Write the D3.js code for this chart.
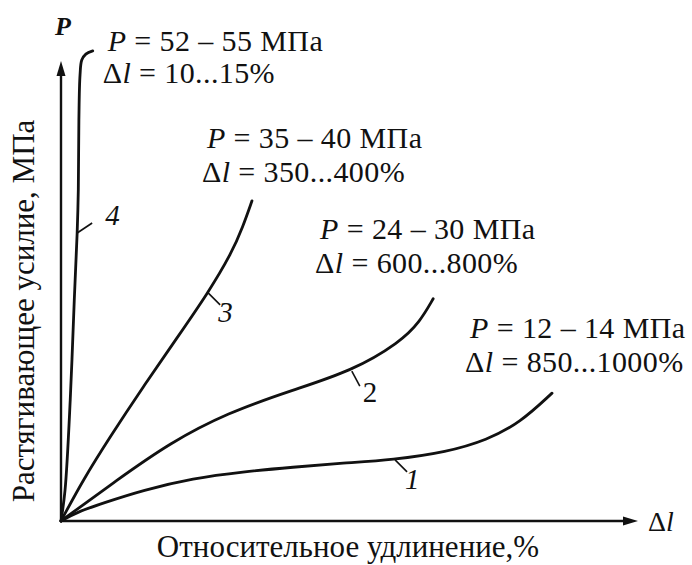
<!DOCTYPE html>
<html>
<head>
<meta charset="utf-8">
<script src="https://cdn.jsdelivr.net/npm/d3@7"></script>
<style>
  body { margin: 0; background: #fff; }
  svg text { font-family: "Liberation Serif", "Times New Roman", serif; fill: #111; }
</style>
</head>
<body>
<script>
// schematic stress-strain curves, values in relative units (0..100 on each axis)
var curveNames = ["1", "2", "3", "4"];

var curve1 = [[0,0],[2.9,2.0],[7.3,3.9],[14.2,6.7],[22.9,9.3],[31.5,10.7],[40.2,11.7],[48.9,12.6],[57.5,13.3],[66.9,15.0],[73.8,17.6],[79.5,21.3],[85.1,27.8]];
var curve2 = [[0,0],[9.7,8.9],[18.9,17.0],[28.8,23.5],[40.2,28.5],[50.4,32.6],[58.8,38.9],[62.2,43.3],[64.5,48.3]];
var curve3 = [[0,0],[3.8,8.9],[8.5,18.3],[14.2,29.1],[20.1,39.8],[25.5,49.6],[29.6,58.3],[31.5,63.9],[33.1,69.6]];
var curve4 = [[0,0],[0.7,6.7],[1.6,26.3],[2.3,48],[2.8,62.6],[3.0,72],[3.1,87.2],[3.3,97],[3.6,100.2],[4.3,101.5],[5.5,102.2]];

// where the number label of each curve is attached (point on curve)
var labelAnchors = [[57.9,13.3],[50.4,32.6],[25.5,49.6],[2.8,62.6]];

// strength / elongation captions, one per curve
var strengthText = ["12 – 14 МПа", "24 – 30 МПа", "35 – 40 МПа", "52 – 55 МПа"];
var elongText    = ["850...1000%", "600...800%", "350...400%", "10...15%"];
// caption positions (relative units)
var captionPos = [[70.9,39.8],[44.9,61.3],[25.3,81.1],[8.1,102.2]];

var W = 692, H = 565;
var svg = d3.select("body").append("svg")
    .attr("width", W)
    .attr("height", H);

// set the ranges
var x = d3.scaleLinear().domain([0, 100]).range([61, 638]);
var y = d3.scaleLinear().domain([0, 100]).range([521, 61]);

// axes (drawn as lines with arrow heads)
svg.append("line")
    .attr("x1", x(0)).attr("y1", y(0))
    .attr("x2", x(100) - 8).attr("y2", y(0))
    .attr("stroke", "#111").attr("stroke-width", 2.4);
svg.append("path")
    .attr("d", "M" + x(100) + "," + y(0) + "L" + (x(100) - 15) + "," + (y(0) - 4.5) + "L" + (x(100) - 15) + "," + (y(0) + 4.5) + "Z")
    .attr("fill", "#111");

svg.append("line")
    .attr("x1", x(0)).attr("y1", y(0))
    .attr("x2", x(0)).attr("y2", y(100) + 8)
    .attr("stroke", "#111").attr("stroke-width", 2.4);
svg.append("path")
    .attr("d", "M" + x(0) + "," + y(100) + "L" + (x(0) - 4.5) + "," + (y(100) + 15) + "L" + (x(0) + 4.5) + "," + (y(100) + 15) + "Z")
    .attr("fill", "#111");

// the curves (smoothed through the read-off points)
var line = d3.line()
    .x(function(d) { return x(d[0]); })
    .y(function(d) { return y(d[1]); })
    .curve(d3.curveBasis);

var hookLine = d3.line()
    .x(function(d) { return x(d[0]); })
    .y(function(d) { return y(d[1]); })
    .curve(d3.curveCatmullRom.alpha(0.5));

svg.selectAll(".curve")
    .data([curve1, curve2, curve3, curve4])
    .enter()
    .append("path")
    .classed("curve", true)
    .attr("d", function(d, i) { return i == 3 ? hookLine(d) : line(d); })
    .attr("fill", "none")
    .attr("stroke", "#111")
    .attr("stroke-width", 2.8)
    .attr("stroke-linecap", "round");

// leader ticks + curve numbers
var ticks = svg.selectAll(".lbl")
    .data(labelAnchors)
    .enter()
    .append("g")
    .classed("lbl", true)
    .attr("transform", function(d) { return "translate(" + x(d[0]) + "," + y(d[1]) + ")"; });

ticks.append("line")
    .attr("x1", 0).attr("y1", 0)
    .attr("x2", function(d, i) { return i == 3 ? 15 : (i == 1 ? 8 : 12); })
    .attr("y2", function(d, i) { return i == 3 ? -10 : (i == 1 ? 15 : 12); })
    .attr("stroke", "#111").attr("stroke-width", 1.6);

ticks.append("text")
    .attr("x", function(d, i) { return i == 3 ? 28 : (i == 1 ? 11 : 10); })
    .attr("y", function(d, i) { return i == 3 ? -8 : (i == 1 ? 31 : 29); })
    .style("font-size", "29px")
    .style("font-style", function(d, i) { return i == 1 ? "normal" : "italic"; })
    .text(function(d, i) { return curveNames[i]; });

// captions
var caps = svg.selectAll(".cap")
    .data(captionPos)
    .enter()
    .append("g")
    .classed("cap", true)
    .attr("transform", function(d) { return "translate(" + x(d[0]) + "," + y(d[1]) + ")"; });

var t1 = caps.append("text")
    .attr("x", 0).attr("y", 0)
    .style("font-size", "30px")
    .style("letter-spacing", "0.4px");
t1.append("tspan").style("font-style", "italic").text("P");
t1.append("tspan").text(function(d, i) { return " = " + strengthText[i]; });

var t2 = caps.append("text")
    .attr("x", -5).attr("y", function(d, i) { return i == 3 ? 32 : 34; })
    .style("font-size", "30px")
    .style("letter-spacing", "0.4px");
t2.append("tspan").text("Δ");
t2.append("tspan").style("font-style", "italic").text("l");
t2.append("tspan").text(function(d, i) { return " = " + elongText[i]; });

// axis names
svg.append("text")
    .attr("x", x(0) - 6)
    .attr("y", 35)
    .style("font-size", "26px")
    .style("font-style", "italic")
    .style("font-weight", "bold")
    .text("P");

var dl = svg.append("text")
    .attr("x", x(100) + 10)
    .attr("y", y(0) + 10)
    .style("font-size", "28px");
dl.append("tspan").text("Δ");
dl.append("tspan").style("font-style", "italic").text("l");

svg.append("text")
    .attr("x", 348)
    .attr("y", 557)
    .attr("text-anchor", "middle")
    .style("font-size", "31px")
    .text("Относительное удлинение,%");

svg.append("text")
    .attr("transform", "rotate(-90)")
    .attr("x", -311)
    .attr("y", 34)
    .attr("text-anchor", "middle")
    .style("font-size", "31px")
    .text("Растягивающее усилие, МПа");
</script>
</body>
</html>
